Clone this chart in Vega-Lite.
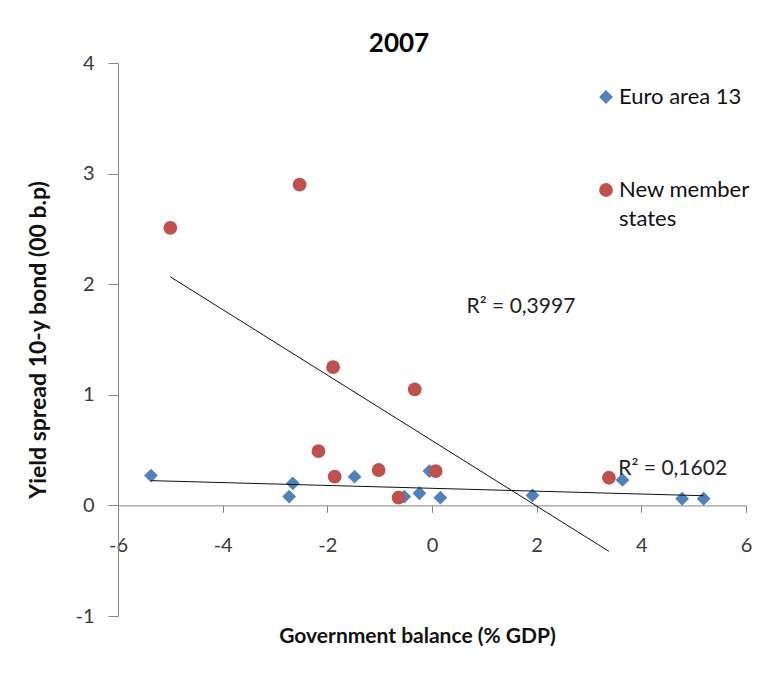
{
  "$schema": "https://vega.github.io/schema/vega-lite/v6.json",
  "width": 628,
  "height": 553,
  "autosize": {"type": "none"},
  "padding": {"left": 118, "top": 63, "right": 37, "bottom": 66},
  "background": "white",
  "config": {
    "view": {"stroke": null},
    "font": "Lato",
    "style": {"guide-label": {"lineHeight": 29}},
    "axis": {
      "grid": false,
      "domainColor": "#868686",
      "tickColor": "#868686",
      "labelFont": "Lato",
      "labelFontSize": 20,
      "labelColor": "#3a3a3a",
      "titleFont": "Lato",
      "titleFontSize": 23,
      "titleFontWeight": "bold",
      "titleColor": "#111111"
    }
  },
  "title": {
    "text": "2007",
    "font": "Lato",
    "fontSize": 26,
    "fontWeight": "bold",
    "color": "#000000",
    "anchor": "middle",
    "dx": -33,
    "offset": -4
  },
  "data": {
    "values": [
      {"group": "Euro area 13", "balance": -5.37, "spread": 0.27},
      {"group": "Euro area 13", "balance": -2.73, "spread": 0.08},
      {"group": "Euro area 13", "balance": -2.66, "spread": 0.20},
      {"group": "Euro area 13", "balance": -1.48, "spread": 0.26},
      {"group": "Euro area 13", "balance": -0.53, "spread": 0.08},
      {"group": "Euro area 13", "balance": -0.24, "spread": 0.11},
      {"group": "Euro area 13", "balance": -0.05, "spread": 0.31},
      {"group": "Euro area 13", "balance": 0.16, "spread": 0.07},
      {"group": "Euro area 13", "balance": 1.92, "spread": 0.09},
      {"group": "Euro area 13", "balance": 3.64, "spread": 0.23},
      {"group": "Euro area 13", "balance": 4.78, "spread": 0.06},
      {"group": "Euro area 13", "balance": 5.19, "spread": 0.06},
      {"group": "New member states", "balance": -5.00, "spread": 2.51},
      {"group": "New member states", "balance": -2.53, "spread": 2.90},
      {"group": "New member states", "balance": -2.17, "spread": 0.49},
      {"group": "New member states", "balance": -1.89, "spread": 1.25},
      {"group": "New member states", "balance": -1.86, "spread": 0.26},
      {"group": "New member states", "balance": -1.02, "spread": 0.32},
      {"group": "New member states", "balance": -0.64, "spread": 0.07},
      {"group": "New member states", "balance": -0.33, "spread": 1.05},
      {"group": "New member states", "balance": 0.07, "spread": 0.31},
      {"group": "New member states", "balance": 3.38, "spread": 0.25}
    ]
  },
  "encoding": {
    "x": {
      "field": "balance",
      "type": "quantitative",
      "scale": {"domain": [-6, 6], "nice": false, "zero": false},
      "axis": {
        "title": "Government balance (% GDP)",
        "titleFontSize": 21,
        "values": [-6, -4, -2, 0, 2, 4, 6],
        "labelExpr": "datum.value < 0 ? '-' + abs(datum.value) : '' + datum.value",
        "offset": -110.6,
        "tickSize": 7,
        "labelPadding": 23,
        "labelFlush": false,
        "titlePadding": 70,
        "titleX": 299
      }
    },
    "y": {
      "field": "spread",
      "type": "quantitative",
      "scale": {"domain": [-1, 4], "nice": false, "zero": false},
      "axis": {
        "title": "Yield spread 10-y bond (00 b.p)",
        "values": [-1, 0, 1, 2, 3, 4],
        "labelExpr": "datum.value < 0 ? '-' + abs(datum.value) : '' + datum.value",
        "tickSize": 10,
        "labelPadding": 14,
        "titlePadding": 24
      }
    }
  },
  "layer": [
    {
      "mark": {"type": "point", "filled": true, "opacity": 1, "size": 190},
      "encoding": {
        "color": {
          "field": "group",
          "type": "nominal",
          "scale": {"domain": ["Euro area 13", "New member states"], "range": ["#4F81BD", "#C0504D"]},
          "legend": {
            "title": null,
            "orient": "none",
            "legendX": 477,
            "legendY": 23,
            "labelFont": "Lato",
            "labelFontSize": 22,
            "labelColor": "#111111",
            "symbolSize": 190,
            "rowPadding": 71,
            "labelOffset": 2,
            "labelExpr": "datum.label == 'New member states' ? ['New member', 'states'] : datum.label"
          }
        },
        "shape": {
          "field": "group",
          "type": "nominal",
          "scale": {"domain": ["Euro area 13", "New member states"], "range": ["diamond", "circle"]}
        }
      }
    },
    {
      "transform": [
        {"regression": "spread", "on": "balance", "groupby": ["group"]}
      ],
      "mark": {"type": "line", "color": "#111111", "strokeWidth": 1},
      "encoding": {
        "detail": {"field": "group", "type": "nominal"}
      }
    },
    {
      "data": {
        "values": [
          {"balance": 0.66, "spread": 1.79, "label": "R² = 0,3997"},
          {"balance": 3.56, "spread": 0.33, "label": "R² = 0,1602"}
        ]
      },
      "mark": {"type": "text", "align": "left", "baseline": "middle", "font": "Lato", "fontSize": 21, "color": "#222222"},
      "encoding": {
        "text": {"field": "label", "type": "nominal"}
      }
    }
  ]
}
